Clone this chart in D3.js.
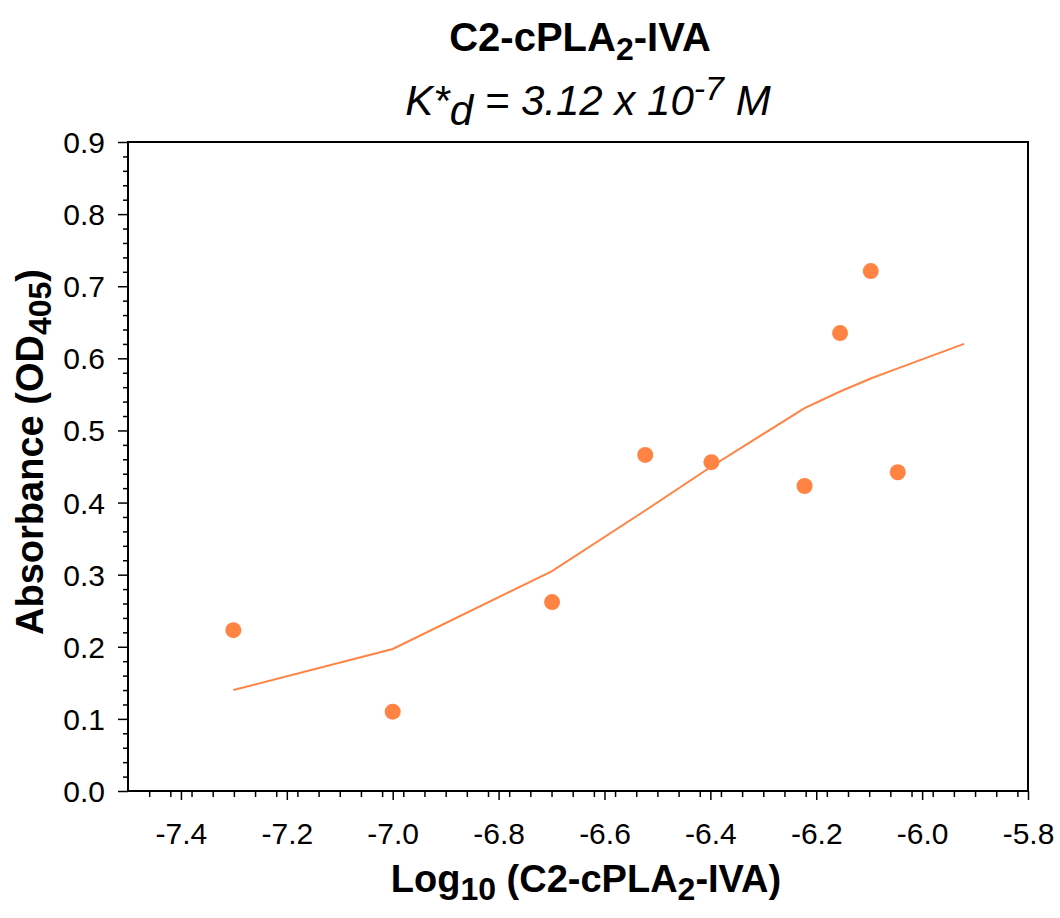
<!DOCTYPE html>
<html>
<head>
<meta charset="utf-8">
<script src="https://cdn.jsdelivr.net/npm/d3@7"></script>
<style>
  html, body { margin: 0; padding: 0; background: #fff; }
  svg { display: block; font-family: "Liberation Sans", Arial, sans-serif; }
</style>
</head>
<body>
<svg id="chart" width="1060" height="918"></svg>
<script>
// ---- data ----
const logConcentration = [-7.301, -7.0, -6.699, -6.523, -6.398, -6.222, -6.155, -6.097, -6.046];
const absorbance       = [0.223, 0.110, 0.262, 0.466, 0.456, 0.423, 0.635, 0.721, 0.442];
const fitLogConc   = [-7.301, -7.0, -6.699, -6.523, -6.398, -6.222, -6.155, -6.097, -6.046, -5.921];
const fitAbsorbance= [0.140, 0.197, 0.305, 0.389, 0.450, 0.531, 0.554, 0.572, 0.586, 0.620];
const xTickValues = [-7.4, -7.2, -7.0, -6.8, -6.6, -6.4, -6.2, -6.0, -5.8];
const xTickLabels = ["-7.4", "-7.2", "-7.0", "-6.8", "-6.6", "-6.4", "-6.2", "-6.0", "-5.8"];
const yTickValues = [0, 0.1, 0.2, 0.3, 0.4, 0.5, 0.6, 0.7, 0.8, 0.9];
const yTickLabels = ["0.0", "0.1", "0.2", "0.3", "0.4", "0.5", "0.6", "0.7", "0.8", "0.9"];

const color = "#ff8444";
const svg = d3.select("#chart");
const L = 128, R = 1028, T = 142, B = 791;

const x = d3.scaleLinear().domain([-7.5, -5.8]).range([L, R]);
const y = d3.scaleLinear().domain([0, 0.9]).range([B, T]);

// minor ticks
const xMinor = d3.range(0, 43).map(i => -7.5 + i * 0.04).filter(v => v > -7.5 && v < -5.8 + 1e-9)
  .filter(v => !xTickValues.some(t => Math.abs(t - v) < 1e-6));
const yMinor = d3.range(0, 46).map(i => i * 0.02).filter(v => v > 0 && v < 0.9 + 1e-9)
  .filter(v => !yTickValues.some(t => Math.abs(t - v) < 1e-6));

// X axis
const gx = svg.append("g").attr("transform", `translate(0,${B})`);
gx.call(d3.axisBottom(x).tickValues(xMinor).tickSize(6).tickFormat(""));
gx.call(g => g.select(".domain").remove());
const gx2 = svg.append("g").attr("transform", `translate(0,${B})`);
gx2.call(d3.axisBottom(x).tickValues(xTickValues).tickSize(9).tickSizeOuter(0)
  .tickFormat((d, i) => xTickLabels[i]));
gx2.select(".domain").remove();
gx2.attr("font-size", 30);
gx2.selectAll("text").attr("font-size", 30).attr("font-family", "Liberation Sans, Arial, sans-serif")
  .attr("fill", "#000").attr("y", 0).attr("dy", 53);
svg.selectAll(".tick line").attr("stroke", "#000").attr("stroke-width", 1.5);

// Y axis
const gy = svg.append("g").attr("transform", `translate(${L},0)`);
gy.call(d3.axisLeft(y).tickValues(yMinor).tickSize(5).tickFormat(""));
gy.select(".domain").remove();
const gy2 = svg.append("g").attr("transform", `translate(${L},0)`);
gy2.call(d3.axisLeft(y).tickValues(yTickValues).tickSize(10).tickSizeOuter(0)
  .tickFormat((d, i) => yTickLabels[i]));
gy2.select(".domain").remove();
gy2.attr("font-size", 30);
gy2.selectAll("text").attr("font-size", 30).attr("font-family", "Liberation Sans, Arial, sans-serif")
  .attr("fill", "#000").attr("x", -23).attr("dy", "0.35em");
svg.selectAll(".tick line").attr("stroke", "#000").attr("stroke-width", 1.5);

// frame
svg.append("rect").attr("x", L).attr("y", T).attr("width", R - L).attr("height", B - T)
  .attr("fill", "none").attr("stroke", "#000").attr("stroke-width", 2);

// fit line
const line = d3.line().x((d, i) => x(fitLogConc[i])).y((d, i) => y(fitAbsorbance[i]));
svg.append("path").datum(fitLogConc).attr("d", line)
  .attr("fill", "none").attr("stroke", color).attr("stroke-width", 2);

// points
svg.append("g").selectAll("circle").data(logConcentration).join("circle")
  .attr("cx", d => x(d)).attr("cy", (d, i) => y(absorbance[i])).attr("r", 8).attr("fill", color);

// titles
const t1 = svg.append("text").attr("x", 580).attr("y", 51).attr("text-anchor", "middle")
  .attr("font-size", 40).attr("font-weight", "bold");
t1.append("tspan").text("C2-cPLA");
t1.append("tspan").text("2").attr("font-size", 32).attr("dy", 9);
t1.append("tspan").text("-IVA").attr("dy", -9);

const t2 = svg.append("text").attr("x", 588).attr("y", 115).attr("text-anchor", "middle")
  .attr("font-size", 42).attr("font-style", "italic");
t2.append("tspan").text("K*");
t2.append("tspan").text("d").attr("dy", 10);
t2.append("tspan").text(" = 3.12 x 10").attr("dy", -10);
t2.append("tspan").text("-7").attr("font-size", 34).attr("dy", -15);
t2.append("tspan").text(" M").attr("dy", 15);

// x axis title
const xt = svg.append("text").attr("x", 586).attr("y", 892).attr("text-anchor", "middle")
  .attr("font-size", 38).attr("font-weight", "bold");
xt.append("tspan").text("Log");
xt.append("tspan").text("10").attr("font-size", 32).attr("dy", 8);
xt.append("tspan").text(" (C2-cPLA").attr("dy", -8);
xt.append("tspan").text("2").attr("font-size", 32).attr("dy", 8);
xt.append("tspan").text("-IVA)").attr("dy", -8);

// y axis title
const yt = svg.append("text").attr("transform", "translate(43,452) rotate(-90)")
  .attr("text-anchor", "middle").attr("font-size", 38).attr("font-weight", "bold");
yt.append("tspan").text("Absorbance (OD");
yt.append("tspan").text("405").attr("font-size", 32).attr("dy", 8);
yt.append("tspan").text(")").attr("dy", -8);
</script>
</body>
</html>
